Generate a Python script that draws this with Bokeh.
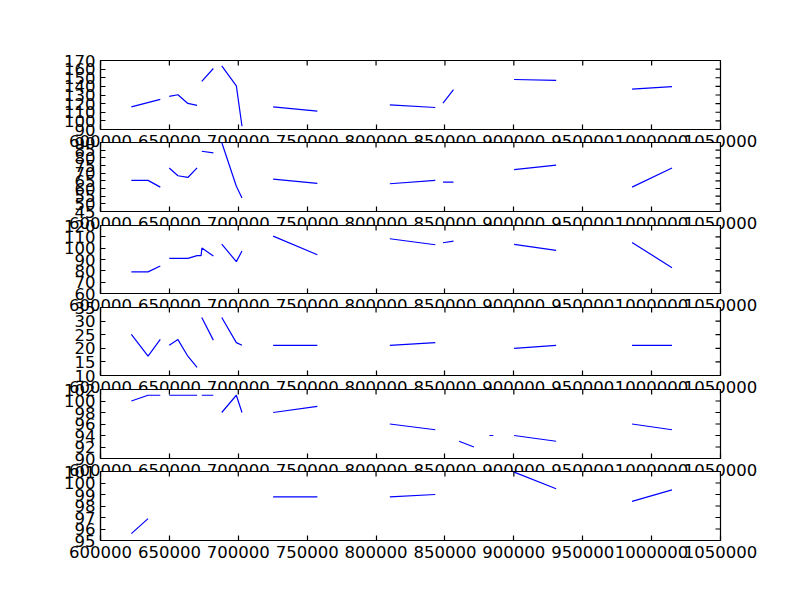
import math
from bokeh.plotting import figure
from bokeh.layouts import column
from bokeh.models import FixedTicker, Range1d
from bokeh.embed import file_html
from bokeh.resources import INLINE

nan = float("nan")

# ---- shared x axis -------------------------------------------------------
x_ticks = [600000, 650000, 700000, 750000, 800000, 850000, 900000, 950000, 1000000, 1050000]
x_tick_labels = ["600000", "650000", "700000", "750000", "800000", "850000",
                 "900000", "950000", "1000000", "1050000"]

# ---- panel 1 --------------------------------------------------------------
p1_x = [622400, 643400, nan, 649900, 656200, 663400, 670100, nan, 673500, 681900, nan,
        688000, 698600, 702700, nan, 725300, 757400, nan, 810000, 843000, nan,
        848600, 856200, nan, 900200, 930700, nan, 985800, 1014800]
p1_y = [116.3, 124.9, nan, 128.4, 130.3, 120.2, 117.9, nan, 145.9, 160.7, nan,
        163.8, 140.5, 93.8, nan, 116.3, 111.3, nan, 118.6, 115.5, nan,
        120.6, 136.3, nan, 148.0, 146.9, nan, 136.7, 139.8]
p1_yticks = [90, 100, 110, 120, 130, 140, 150, 160, 170]

# ---- panel 2 --------------------------------------------------------------
p2_x = [622400, 634500, 643400, nan, 649900, 656200, 663400, 670100, nan, 673500, 681900, nan,
        688000, 698600, 702700, nan, 725300, 757400, nan, 810000, 843000, nan,
        848600, 856200, nan, 900200, 930700, nan, 985800, 1014800]
p2_y = [65.3, 65.3, 60.9, nan, 73.4, 68.3, 67.2, 73.4, nan, 84.3, 83.2, nan,
        90.0, 61.5, 53.8, nan, 66.1, 63.3, nan, 63.1, 65.3, nan,
        64.2, 64.2, nan, 72.3, 75.3, nan, 60.9, 73.4]
p2_yticks = [45, 50, 55, 60, 65, 70, 75, 80, 85, 90]

# ---- panel 3 --------------------------------------------------------------
p3_x = [622400, 634500, 643400, nan, 649900, 656200, 663400, 670100, 673000, 673600, 681900, nan,
        688000, 698600, 702700, nan, 725300, 757400, nan, 810000, 843000, nan,
        848600, 856200, nan, 900200, 930700, nan, 985800, 1014800]
p3_y = [79.1, 79.1, 84.3, nan, 91.0, 91.0, 91.0, 93.4, 93.4, 100.1, 93.1, nan,
        103.6, 88.1, 97.5, nan, 110.6, 94.2, nan, 108.3, 103.0, nan,
        104.8, 106.2, nan, 103.3, 98.0, nan, 105.0, 82.8]
p3_yticks = [60, 70, 80, 90, 100, 110, 120]

# ---- panel 4 --------------------------------------------------------------
p4_x = [622400, 634500, 643400, nan, 649900, 656200, 663400, 670100, nan, 673500, 681900, nan,
        688000, 698600, 702700, nan, 725300, 757400, nan, 810000, 843000, nan,
        900200, 930700, nan, 985800, 1014800]
p4_y = [25.1, 17.1, 23.3, nan, 21.1, 23.2, 17.1, 13.0, nan, 31.3, 23.0, nan,
        31.3, 22.1, 21.1, nan, 21.1, 21.1, nan, 21.1, 22.1, nan,
        20.0, 21.1, nan, 21.1, 21.1]
p4_yticks = [10, 15, 20, 25, 30, 35]

# ---- panel 5 --------------------------------------------------------------
p5_x = [622400, 634500, 643400, nan, 649900, 656200, 663400, 670100, nan, 673500, 681900, nan,
        688000, 698600, 702700, nan, 725300, 757400, nan, 810000, 843000, nan,
        860300, 871000, nan, 882300, 885100, nan, 900200, 930700, nan, 985800, 1014800]
p5_y = [100.0, 101.0, 101.0, nan, 101.0, 101.0, 101.0, 101.0, nan, 101.0, 101.0, nan,
        98.0, 101.0, 98.0, nan, 98.0, 99.05, nan, 96.0, 95.0, nan,
        93.0, 92.0, nan, 94.0, 94.0, nan, 94.0, 93.0, nan, 96.0, 95.0]
p5_yticks = [90, 92, 94, 96, 98, 100, 102]

# ---- panel 6 --------------------------------------------------------------
p6_x = [622400, 634500, nan, 725300, 757400, nan, 810000, 843000, nan,
        900200, 930700, nan, 985800, 1014800]
p6_y = [95.6, 96.9, nan, 98.8, 98.8, nan, 98.8, 99.0, nan,
        100.95, 99.5, nan, 98.4, 99.4]
p6_yticks = [95, 96, 97, 98, 99, 100, 101]

panels = [
    (p1_x, p1_y, p1_yticks),
    (p2_x, p2_y, p2_yticks),
    (p3_x, p3_y, p3_yticks),
    (p4_x, p4_y, p4_yticks),
    (p5_x, p5_y, p5_yticks),
    (p6_x, p6_y, p6_yticks),
]

# layout (pixels): frame tops / bottoms mimic matplotlib subplots
frame_top = [60, 142, 225, 307, 389, 471]
frame_bot = [129, 211, 293, 375, 458, 540]
BB = 34
FONT = "DejaVu Sans"
FS = "16.5px"
LW = 1.2
TICK = 5

figs = []
for i, (xs, ys, yt) in enumerate(panels):
    bt = 60 if i == 0 else 10
    fh = frame_bot[i] - frame_top[i]
    p = figure(width=800, height=bt + fh + BB,
               x_range=Range1d(x_ticks[0], x_ticks[-1]),
               y_range=Range1d(yt[0], yt[-1]),
               output_backend="svg", toolbar_location=None,
               min_border_left=100, min_border_right=80,
               min_border_top=bt, min_border_bottom=BB)
    p.grid.visible = False
    p.background_fill_color = "white"
    p.border_fill_alpha = 0
    p.outline_line_color = "black"
    p.outline_line_width = LW

    xa = p.xaxis[0]
    xa.ticker = FixedTicker(ticks=x_ticks)
    xa.major_label_overrides = {t: s for t, s in zip(x_ticks, x_tick_labels)}
    ya = p.yaxis[0]
    ya.ticker = FixedTicker(ticks=yt)
    for ax in (xa, ya):
        ax.major_tick_in = TICK
        ax.major_tick_out = 0
        ax.minor_tick_line_color = None
        ax.major_tick_line_color = "black"
        ax.major_tick_line_width = LW
        ax.axis_line_color = "black"
        ax.axis_line_width = LW
        ax.major_label_text_font = FONT
        ax.major_label_text_font_size = FS
        ax.major_label_text_color = "black"
    xa.major_label_standoff = 5
    ya.major_label_standoff = 5

    # inward tick marks on the top and right edges (matplotlib classic style)
    p.scatter(x=x_ticks, y=[yt[-1]] * len(x_ticks), marker="dash", angle=math.pi / 2,
              size=2 * TICK, line_color="black", line_width=LW)
    p.scatter(x=[x_ticks[-1]] * len(yt), y=yt, marker="dash",
              size=2 * TICK, line_color="black", line_width=LW)

    p.line(xs, ys, line_color="#0000ff", line_width=LW)

    if i > 0:
        p.margin = (frame_top[i] - frame_bot[i - 1] - 10 - BB, 0, 0, 0)
    else:
        p.margin = (0, 0, 0, 0)
    figs.append(p)

layout = column(*figs, spacing=0)
open("out.html", "w").write(file_html(layout, INLINE))
